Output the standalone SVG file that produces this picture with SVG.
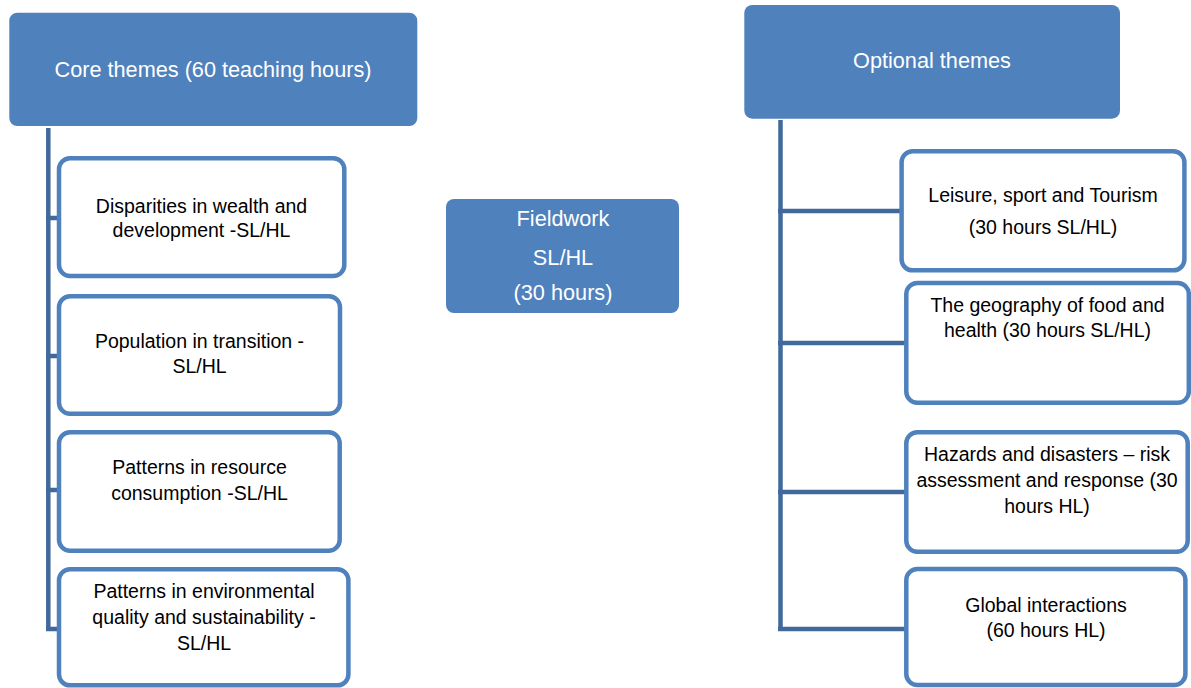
<svg xmlns="http://www.w3.org/2000/svg" width="1191" height="688" viewBox="0 0 1191 688">
<style>
.head{fill:#4F81BD;}
.node{fill:#FFFFFF;stroke:#4F81BD;stroke-width:4.5;}
.conn{fill:none;stroke:#41699B;stroke-width:4.5;stroke-linecap:butt;}
.ht{font-family:"Liberation Sans",Arial,sans-serif;font-size:21.7px;fill:#FFFFFF;text-anchor:middle;}
.nt{font-family:"Liberation Sans",Arial,sans-serif;font-size:19.5px;fill:#000000;text-anchor:middle;}
</style>
<rect width="1191" height="688" fill="#FFFFFF"/>
<g id="connectors">
<path class="conn" d="M48.3,128 V631"/>
<path class="conn" d="M46,218 H59 M46,356 H59 M46,490 H59 M46,629 H59"/>
<path class="conn" d="M780.5,120 V631"/>
<path class="conn" d="M778,211 H902 M778,343 H906 M778,492 H906 M778,629 H906"/>
</g>
<g id="core">
<rect class="head" x="9.3" y="12.7" width="408" height="113.3" rx="8"/>
<text class="ht" x="213" y="77">Core themes (60 teaching hours)</text>
</g>
<g id="optional">
<rect class="head" x="744.3" y="5" width="375.7" height="113.7" rx="8"/>
<text class="ht" x="932" y="68">Optional themes</text>
</g>
<g id="fieldwork">
<rect class="head" x="446" y="199" width="233" height="114" rx="8"/>
<text class="ht" x="563" y="226">Fieldwork</text>
<text class="ht" x="563" y="265">SL/HL</text>
<text class="ht" x="563" y="300">(30 hours)</text>
</g>
<g id="disparities">
<rect class="node" x="59" y="158.3" width="285.3" height="117.7" rx="11"/>
<text class="nt" x="201.5" y="213">Disparities in wealth and</text>
<text class="nt" x="201.5" y="237">development -SL/HL</text>
</g>
<g id="population">
<rect class="node" x="59" y="296.3" width="281" height="117.4" rx="11"/>
<text class="nt" x="199.5" y="348">Population in transition -</text>
<text class="nt" x="199.5" y="372.5">SL/HL</text>
</g>
<g id="resource">
<rect class="node" x="59" y="432.3" width="280.7" height="118.4" rx="11"/>
<text class="nt" x="199.5" y="474">Patterns in resource</text>
<text class="nt" x="199.5" y="499.5">consumption -SL/HL</text>
</g>
<g id="environmental">
<rect class="node" x="59" y="569.3" width="289.4" height="116" rx="11"/>
<text class="nt" x="204" y="598">Patterns in environmental</text>
<text class="nt" x="204" y="623.5">quality and sustainability -</text>
<text class="nt" x="204" y="649.5">SL/HL</text>
</g>
<g id="leisure">
<rect class="node" x="901.6" y="151.3" width="282.8" height="119" rx="11"/>
<text class="nt" x="1043" y="201.5">Leisure, sport and Tourism</text>
<text class="nt" x="1043" y="233.5">(30 hours SL/HL)</text>
</g>
<g id="food">
<rect class="node" x="906.3" y="283" width="282.5" height="119.7" rx="11"/>
<text class="nt" x="1047.5" y="311.5">The geography of food and</text>
<text class="nt" x="1047.5" y="336.5">health (30 hours SL/HL)</text>
</g>
<g id="hazards">
<rect class="node" x="906.3" y="432.3" width="281.4" height="119.4" rx="11"/>
<text class="nt" x="1047" y="461">Hazards and disasters – risk</text>
<text class="nt" x="1047" y="487">assessment and response (30</text>
<text class="nt" x="1047" y="513">hours HL)</text>
</g>
<g id="global">
<rect class="node" x="906.3" y="569" width="279.1" height="116" rx="11"/>
<text class="nt" x="1046" y="611.5">Global interactions</text>
<text class="nt" x="1046" y="637">(60 hours HL)</text>
</g>
</svg>
